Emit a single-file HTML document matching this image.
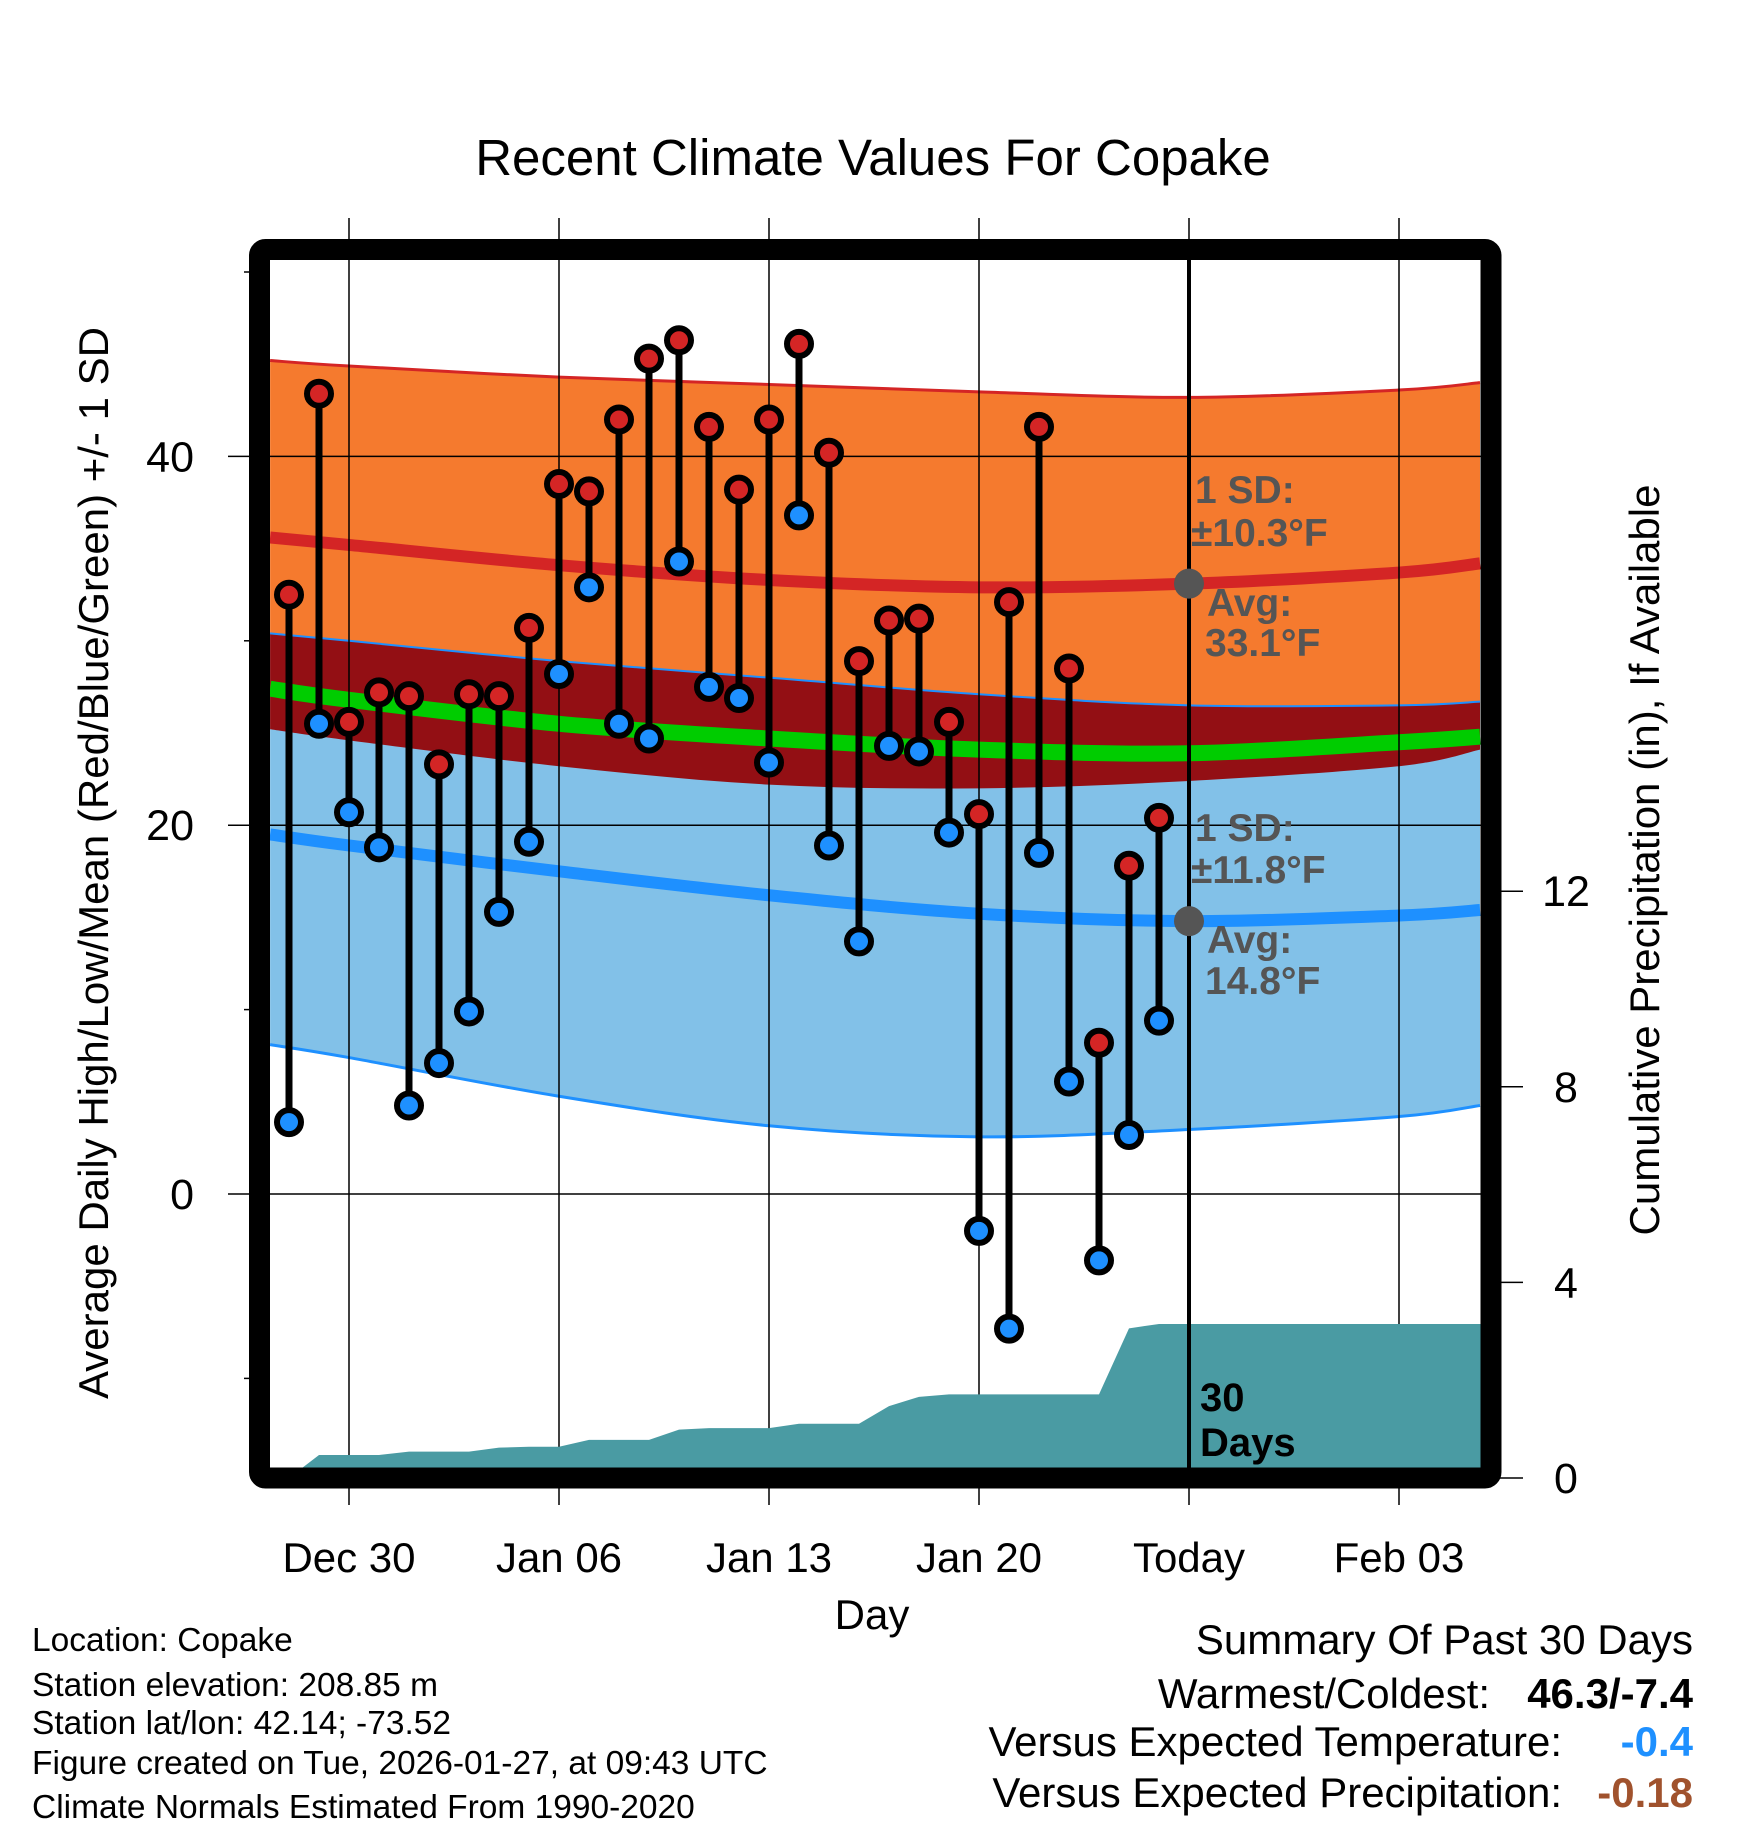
<!DOCTYPE html>
<html><head><meta charset="utf-8"><style>
html,body{margin:0;padding:0;background:#fff;}
svg{display:block;font-family:"Liberation Sans",sans-serif;}
</style></head><body>
<svg id="chart" width="1748" height="1828" viewBox="0 0 1748 1828" xmlns="http://www.w3.org/2000/svg">
<text x="873" y="175" font-size="51" text-anchor="middle">Recent Climate Values For Copake</text>
<g id="bands"></g><g id="grid"></g><g id="precip"></g><g id="marks"></g><g id="overlay"></g>
<text transform="translate(108,863) rotate(-90)" font-size="42" text-anchor="middle">Average Daily High/Low/Mean (Red/Blue/Green) +/- 1 SD</text>
<text transform="translate(1659,860) rotate(-90)" font-size="42" text-anchor="middle">Cumulative Precipitation (in), If Available</text>
<text x="872" y="1629" font-size="42" text-anchor="middle">Day</text>
<g font-size="39" font-weight="bold" fill="#555">
<text x="1195" y="503">1 SD:</text><text x="1191" y="546">±10.3°F</text>
<text x="1207" y="616">Avg:</text><text x="1205" y="656">33.1°F</text></g>
<g font-size="39" font-weight="bold" fill="#555">
<text x="1195" y="841">1 SD:</text><text x="1191" y="883">±11.8°F</text>
<text x="1207" y="953">Avg:</text><text x="1205" y="994">14.8°F</text></g>
<g font-size="40" font-weight="bold"><text x="1200" y="1411">30</text><text x="1200" y="1456">Days</text></g>
<g font-size="33.5">
<text x="32" y="1651">Location: Copake</text>
<text x="32" y="1696">Station elevation: 208.85 m</text>
<text x="32" y="1734">Station lat/lon: 42.14; -73.52</text>
<text x="32" y="1774">Figure created on Tue, 2026-01-27, at 09:43 UTC</text>
<text x="32" y="1818">Climate Normals Estimated From 1990-2020</text></g>
<g font-size="42" text-anchor="end">
<text x="1693" y="1654">Summary Of Past 30 Days</text>
<text x="1490" y="1708">Warmest/Coldest:</text><text x="1693" y="1708" font-weight="bold">46.3/-7.4</text>
<text x="1562" y="1756">Versus Expected Temperature:</text><text x="1693" y="1756" font-weight="bold" fill="#1e90ff">-0.4</text>
<text x="1562" y="1807">Versus Expected Precipitation:</text><text x="1693" y="1807" font-weight="bold" fill="#a0522d">-0.18</text></g>
</svg>
<script>
// data: day index relative to Dec 30
const days = [-2,-1,0,1,2,3,4,5,6,7,8,9,10,11,12,13,14,15,16,17,18,19,20,21,22,23,24,25,26,27];
const highs = [32.5,43.4,25.6,27.2,27.0,23.3,27.1,27.0,30.7,38.5,38.1,42.0,45.3,46.3,41.6,38.2,42.0,46.1,40.2,28.9,31.1,31.2,25.6,20.6,32.1,41.6,28.5,8.2,17.8,20.4];
const lows = [3.9,25.5,20.7,18.8,4.8,7.1,9.9,15.3,19.1,28.2,32.9,25.5,24.7,34.3,27.5,26.9,23.4,36.8,18.9,13.7,24.3,24.0,19.6,-2.0,-7.3,18.5,6.1,-3.6,3.2,9.4];
const precip = [0,0.47,0.47,0.47,0.54,0.54,0.54,0.62,0.64,0.64,0.78,0.78,0.78,0.99,1.02,1.02,1.02,1.11,1.11,1.11,1.47,1.66,1.71,1.71,1.71,1.71,1.71,1.71,3.06,3.15];
const normDays = [-2.63,0,7,14,21,28,35,37.7];
const hiUpper = [45.2,44.9,44.3,43.9,43.5,43.2,43.6,44.0];
const hiAvg = [35.6,35.2,34.1,33.3,32.9,33.1,33.7,34.2];
const hiLower = [25.2,24.6,23.2,22.2,22.0,22.4,23.2,24.1];
const meanAvg = [27.4,26.8,25.5,24.7,24.1,23.9,24.5,24.8];
const loUpper = [30.4,30.0,28.9,28.0,27.1,26.5,26.5,26.7];
const loAvg = [19.5,18.9,17.5,16.2,15.2,14.8,15.1,15.4];
const loLower = [8.1,7.4,5.3,3.7,3.1,3.5,4.2,4.8];
const xTickDays = [0,7,14,21,28,35];
const xTickLabels = ["Dec 30","Jan 06","Jan 13","Jan 20","Today","Feb 03"];
const yTicks = [0,20,40];
const yMinor = [-10,10,30,50];
const y2Ticks = [0,4,8,12];
const todayDay = 28;
const todayHi = 33.1, todayLo = 14.8;

const NS="http://www.w3.org/2000/svg";
const X=d=>349+30*d, Y=v=>1194-18.44*v, Y2=p=>1478-48.9*p;
const L=270,R=1481,T=260,B=1468;
function mk(tag,attrs,parent){const e=document.createElementNS(NS,tag);for(const k in attrs)e.setAttribute(k,attrs[k]);parent.appendChild(e);return e;}
function pts(arr){return normDays.map((d,i)=>[X(d),Y(arr[i])]);}
function spline(p){let s=`M${p[0][0]},${p[0][1]}`;for(let i=0;i<p.length-1;i++){const p0=p[Math.max(0,i-1)],p1=p[i],p2=p[i+1],p3=p[Math.min(p.length-1,i+2)];
s+=` C${p1[0]+(p2[0]-p0[0])/6},${p1[1]+(p2[1]-p0[1])/6} ${p2[0]-(p3[0]-p1[0])/6},${p2[1]-(p3[1]-p1[1])/6} ${p2[0]},${p2[1]}`;}return s;}
function splineRev(p){return spline(p.slice().reverse()).replace(/^M/,' L');}
function band(a,b){return spline(pts(a))+splineRev(pts(b))+' Z';}
const svg=document.getElementById('chart');
const defs=mk('defs',{},svg);const cp=mk('clipPath',{id:'pc'},defs);mk('rect',{x:L,y:T,width:R-L,height:B-T},cp);
const bands=document.getElementById('bands');bands.setAttribute('clip-path','url(#pc)');
let e;
e=mk('path',{d:band(hiUpper,hiLower),fill:'#f57a2e'},bands);


e=mk('path',{d:band(loUpper,loLower),fill:'#82c1e8'},bands);


e=mk('path',{d:band(loUpper,hiLower),fill:'#930f14'},bands);


e=mk('path',{d:spline(pts(hiUpper)),fill:'none',stroke:'#d42525','stroke-width':3},bands);


e=mk('path',{d:spline(pts(loUpper)),fill:'none',stroke:'#1e90ff','stroke-width':2},bands);


e=mk('path',{d:spline(pts(loLower)),fill:'none',stroke:'#1e90ff','stroke-width':3},bands);


e=mk('path',{d:spline(pts(hiAvg)),fill:'none',stroke:'#d42525','stroke-width':12},bands);


e=mk('path',{d:spline(pts(meanAvg)),fill:'none',stroke:'#00cc00','stroke-width':16},bands);


e=mk('path',{d:spline(pts(loAvg)),fill:'none',stroke:'#1e90ff','stroke-width':12},bands);



const grid=document.getElementById('grid');
xTickDays.forEach((d,i)=>{
 e=mk('line',{x1:X(d),x2:X(d),y1:218,y2:1505,stroke:'#000','stroke-width':1.5},grid);
 
 
 e=mk('text',{x:X(d),y:1572,'font-size':42,'text-anchor':'middle'},grid);e.textContent=xTickLabels[i];
 
 
});
yTicks.forEach(v=>{
 e=mk('line',{x1:228,x2:R,y1:Y(v),y2:Y(v),stroke:'#000','stroke-width':1.5},grid);
 
 
 e=mk('text',{x:194,y:Y(v)+15,'font-size':43,'text-anchor':'end'},grid);e.textContent=v;
 
 
});
yMinor.forEach(v=>{
 e=mk('line',{x1:244,x2:252,y1:Y(v),y2:Y(v),stroke:'#000','stroke-width':1.5},grid);
 
 
});
y2Ticks.forEach(p=>{
 e=mk('line',{x1:1495,x2:1523,y1:Y2(p),y2:Y2(p),stroke:'#000','stroke-width':1.5},grid);
 
 
 e=mk('text',{x:1566,y:Y2(p)+15,'font-size':43,'text-anchor':'middle'},grid);e.textContent=p;
 
 
});

const pg=document.getElementById('precip');pg.setAttribute('clip-path','url(#pc)');
let pd=`M${L},${Y2(0)+20}`;
days.forEach((d,i)=>{pd+=` L${X(d)},${Y2(precip[i])}`;});
pd+=` L${R},${Y2(precip[precip.length-1])} L${R},${Y2(0)+20} Z`;
e=mk('path',{d:pd,fill:'#4a9ba3'},pg);



const mg=document.getElementById('marks');
days.forEach((d,i)=>{
 e=mk('line',{x1:X(d),x2:X(d),y1:Y(highs[i]),y2:Y(lows[i]),stroke:'#000','stroke-width':7},mg);
 
 
});
days.forEach((d,i)=>{
 e=mk('circle',{cx:X(d),cy:Y(highs[i]),r:12,fill:'#d42525',stroke:'#000','stroke-width':6},mg);
 
 
 e=mk('circle',{cx:X(d),cy:Y(lows[i]),r:12,fill:'#1e90ff',stroke:'#000','stroke-width':6},mg);
 
 
});
const ov=document.getElementById('overlay');
e=mk('line',{x1:X(todayDay),x2:X(todayDay),y1:T,y2:B,stroke:'#000','stroke-width':4},ov);


e=mk('circle',{cx:X(todayDay),cy:Y(todayHi),r:15,fill:'#555'},ov);


e=mk('circle',{cx:X(todayDay),cy:Y(todayLo),r:15,fill:'#555'},ov);


e=mk('rect',{x:259.5,y:249.5,width:1231.5,height:1228.5,rx:6,fill:'none',stroke:'#000','stroke-width':21},ov);


</script>
</body></html>
